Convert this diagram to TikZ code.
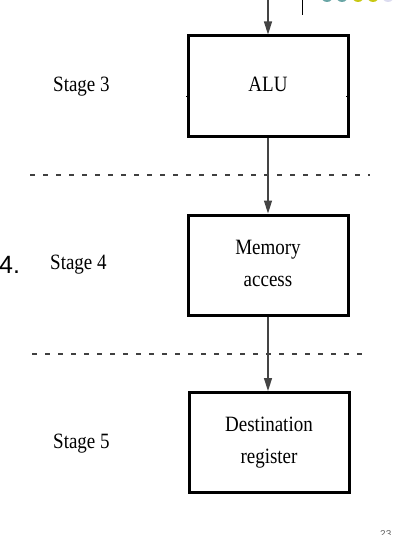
\documentclass[tikz,border=0pt]{standalone}
\usepackage{fontspec}
\setmainfont{Liberation Serif}
\newfontfamily\slidesans{Liberation Sans}
\usetikzlibrary{arrows.meta}
\definecolor{dotteal}{HTML}{6AA6A6}
\definecolor{dotyellow}{HTML}{C8C814}
\definecolor{dotlav}{HTML}{DCDCF0}
\definecolor{arrowgray}{HTML}{444444}
\newcommand{\tallt}[1]{\scalebox{1}[1.15]{\begin{tabular}{@{}c@{}}#1\end{tabular}}}
\begin{document}
\begin{tikzpicture}[x=1pt,y=-1pt,
  stagebox/.style={draw=black,line width=3pt,minimum width=160pt,minimum height=100pt,
    inner sep=0pt,align=center,font=\fontsize{19}{23}\selectfont},
  stagelabel/.style={anchor=base west,inner sep=0pt,font=\fontsize{19}{23}\selectfont},
  flow/.style={draw=arrowgray,line width=1.5pt,-{Triangle[width=8pt,length=13pt]}},
  sep/.style={draw=black!75,line width=1.3pt,dash pattern=on 5pt off 8pt},
  dot/.style={circle,inner sep=0pt,minimum size=12pt}
]
\useasboundingbox (0,0) rectangle (402,535);
% slide decorations
\draw[line width=1pt] (302,0) -- (302,15);
\node[dot,fill=dotteal] (d1) at (327,-4) {};
\node[dot,fill=dotteal] (d2) at (342,-4) {};
\node[dot,fill=dotyellow] (d3) at (358,-4) {};
\node[dot,fill=dotyellow] (d4) at (373,-4) {};
\node[dot,fill=dotlav] (d5) at (388,-4) {};
\node[anchor=base west,inner sep=0pt,font=\slidesans\fontsize{25}{30}\selectfont] (num) at (-1,273) {4.};
\node[anchor=base west,inner sep=0pt,text=black!60,font=\slidesans\fontsize{10}{12}\selectfont] (pg) at (380,537) {23};
% boxes
\node[stagebox] (alu) at (268,86) {\tallt{ALU}};
\node[stagebox] (mem) at (268,265) {\tallt{Memory\\[5pt]access}};
\node[stagebox] (dst) at (269,442.5) {\tallt{Destination\\[5pt]register}};
% side ticks on ALU
\draw[line width=0.6pt] (186,96) -- (190,96);
\draw[line width=0.6pt] (346,96) -- (350,96);
% stage labels
\node[stagelabel] (s3) at (53,92) {\scalebox{1}[1.15]{Stage 3}};
\node[stagelabel] (s4) at (50,269) {\scalebox{1}[1.15]{Stage 4}};
\node[stagelabel] (s5) at (53,448) {\scalebox{1}[1.15]{Stage 5}};
% separators
\coordinate (l1a) at (30,175);
\coordinate (l1b) at (370,175);
\coordinate (l2a) at (32,354);
\coordinate (l2b) at (368,354);
\draw[sep] (l1a) -- (l1b);
\draw[sep] (l2a) -- (l2b);
% arrows
\coordinate (top) at (268,-2);
\draw[flow] (top) -- (alu.north);
\draw[flow] (alu.south) -- (mem.north);
\draw[flow] (mem.south) -- (mem.south |- dst.north);
\end{tikzpicture}
\end{document}
